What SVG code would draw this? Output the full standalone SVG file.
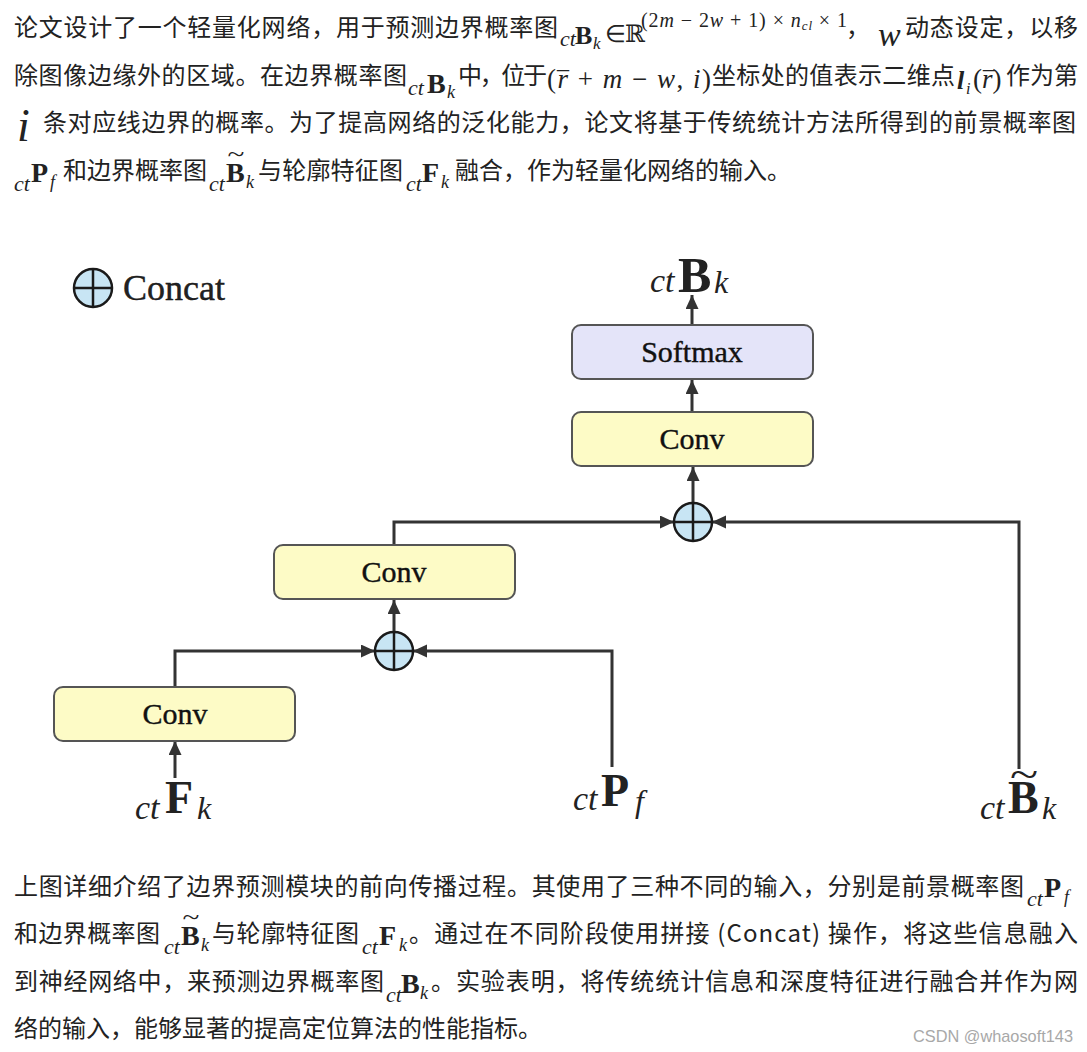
<svg xmlns="http://www.w3.org/2000/svg" width="1087" height="1052" viewBox="0 0 1087 1052">
<defs>
<style>
.cjk{font-family:"Noto Sans CJK SC","Noto Sans",sans-serif;font-size:24px;fill:#222}
.mi{font-family:"Liberation Serif",serif;font-style:italic;fill:#222}
.mb{font-family:"Liberation Serif",serif;font-weight:bold;fill:#222}
.mr{font-family:"Liberation Serif",serif;fill:#222}
.by{fill:#fdfbc6;stroke:#555;stroke-width:2}
.bp{fill:#e4e4f9;stroke:#555;stroke-width:2}
.cat{fill:#c8e5f4;stroke:#1a1a1a;stroke-width:2.5}
.cx{stroke:#1a1a1a;stroke-width:2.5}
.lbl{font-family:"Liberation Serif",serif;font-size:30px;text-anchor:middle;fill:#111;stroke:#111;stroke-width:0.4}
.conn{fill:none;stroke:#333;stroke-width:3}
.wm{font-family:"Liberation Sans",sans-serif;font-size:17px;fill:#a8a8a8}
.tl{font-family:"Liberation Serif",serif;fill:#222;text-anchor:middle}
</style>
<marker id="ah" markerUnits="userSpaceOnUse" markerWidth="16" markerHeight="14" refX="14" refY="6.5" orient="auto">
<path d="M0,0 L14,6.5 L0,13 z" fill="#333"/>
</marker>
</defs>
<rect width="1087" height="1052" fill="#fff"/>

<g id="para-top">
<text class="cjk" x="14" y="36" textLength="544" lengthAdjust="spacing">论文设计了一个轻量化网络，用于预测边界概率图</text>
<text class="mi" x="560" y="46" font-size="22">ct</text>
<text class="mb" x="575" y="44" font-size="26">B</text>
<text class="mi" x="593" y="49" font-size="17">k</text>
<text class="mr" x="605" y="42" font-size="24">∈</text>
<text x="625" y="42" font-size="24" font-family="DejaVu Serif,serif" fill="#222">ℝ</text>
<text class="mr" x="641" y="27" font-size="20" textLength="206" lengthAdjust="spacing">(2<tspan class="mi">m</tspan> − 2<tspan class="mi">w</tspan> + 1) × <tspan class="mi">n</tspan><tspan class="mi" font-size="13" dy="3">cl</tspan><tspan dy="-3"> × 1</tspan></text>
<text class="cjk" x="846" y="36">，</text>
<text class="mi" x="878" y="46" font-size="34">w</text>
<text class="cjk" x="905" y="36" textLength="173" lengthAdjust="spacing">动态设定，以移</text>

<text class="cjk" x="14" y="84" textLength="393" lengthAdjust="spacing">除图像边缘外的区域。在边界概率图</text>
<text class="mi" x="408" y="95" font-size="22">ct</text>
<text class="mb" x="427" y="93" font-size="28">B</text>
<text class="mi" x="447" y="98" font-size="18">k</text>
<text class="cjk" x="458" y="84" textLength="89" lengthAdjust="spacing">中，位于</text>
<text class="mr" x="547" y="88" font-size="27" textLength="164" lengthAdjust="spacing">(<tspan class="mi">r</tspan> + <tspan class="mi">m</tspan> − <tspan class="mi">w</tspan>, <tspan class="mi">i</tspan>)</text>
<text class="tl" x="563" y="88" font-size="24">¯</text>
<text class="cjk" x="712" y="84" textLength="243" lengthAdjust="spacing">坐标处的值表示二维点</text>
<text class="mi" x="957" y="89" font-size="26" font-weight="bold">l</text>
<text class="mi" x="966" y="94" font-size="16">i</text>
<text class="mr" x="973" y="88" font-size="27">(<tspan class="mi">r</tspan>)</text>
<text class="tl" x="989" y="88" font-size="24">¯</text>
<text class="cjk" x="1006" y="84" textLength="72" lengthAdjust="spacing">作为第</text>

<text class="mi" x="17" y="141" font-size="46">i</text>
<text class="cjk" x="43" y="131" textLength="1033" lengthAdjust="spacing">条对应线边界的概率。为了提高网络的泛化能力，论文将基于传统统计方法所得到的前景概率图</text>

<text class="mi" x="14" y="191" font-size="22">ct</text>
<text class="mb" x="31" y="182" font-size="28">P</text>
<text class="mi" x="50" y="188" font-size="18">f</text>
<text class="cjk" x="63" y="179" textLength="144" lengthAdjust="spacing">和边界概率图</text>
<text class="mi" x="209" y="191" font-size="22">ct</text>
<text class="mb" x="226" y="182" font-size="28">B</text>
<text class="tl" x="236" y="162" font-size="24" transform="translate(236 162) scale(1.3 1) translate(-236 -162)">~</text>
<text class="mi" x="246" y="188" font-size="18">k</text>
<text class="cjk" x="258" y="179" textLength="145" lengthAdjust="spacing">与轮廓特征图</text>
<text class="mi" x="406" y="191" font-size="22">ct</text>
<text class="mb" x="422" y="182" font-size="28">F</text>
<text class="mi" x="441" y="188" font-size="18">k</text>
<text class="cjk" x="455" y="179">融合，作为轻量化网络的输入。</text>
</g>

<g id="legend">
<circle class="cat" cx="93" cy="288" r="19"/>
<line class="cx" x1="74" y1="288" x2="112" y2="288"/>
<line class="cx" x1="93" y1="269" x2="93" y2="307"/>
<text class="mr" x="123" y="300" font-size="36" fill="#111" stroke="#111" stroke-width="0.4">Concat</text>
</g>

<g id="connectors">
<path class="conn" d="M175,778 V741" marker-end="url(#ah)"/>
<path class="conn" d="M175,687 V651 H375" marker-end="url(#ah)"/>
<path class="conn" d="M612,767 V651 H413" marker-end="url(#ah)"/>
<path class="conn" d="M394,632 V600" marker-end="url(#ah)"/>
<path class="conn" d="M394,545 V522 H674" marker-end="url(#ah)" stroke="#111"/>
<path class="conn" d="M1019,769 V522 H712" marker-end="url(#ah)"/>
<path class="conn" d="M693,503 V467" marker-end="url(#ah)"/>
<path class="conn" d="M692,412 V380" marker-end="url(#ah)"/>
<path class="conn" d="M692,325 V295" marker-end="url(#ah)"/>
</g>

<g id="conv1">
<rect class="by" x="54" y="687" width="241" height="54" rx="9"/>
<text class="lbl" x="175" y="724">Conv</text>
</g>
<g id="conv2">
<rect class="by" x="274" y="545" width="241" height="54" rx="9"/>
<text class="lbl" x="394" y="582">Conv</text>
</g>
<g id="conv3">
<rect class="by" x="572" y="412" width="241" height="54" rx="9"/>
<text class="lbl" x="692" y="449">Conv</text>
</g>
<g id="softmax">
<rect class="bp" x="572" y="325" width="241" height="54" rx="9"/>
<text class="lbl" x="692" y="362">Softmax</text>
</g>
<g id="concat1">
<circle class="cat" cx="394" cy="651" r="19"/>
<line class="cx" x1="375" y1="651" x2="413" y2="651"/>
<line class="cx" x1="394" y1="632" x2="394" y2="670"/>
</g>
<g id="concat2">
<circle class="cat" cx="693" cy="522" r="19"/>
<line class="cx" x1="674" y1="522" x2="712" y2="522"/>
<line class="cx" x1="693" y1="503" x2="693" y2="541"/>
</g>

<g id="out-Bk">
<text class="mi" x="650" y="292" font-size="34">ct</text>
<text class="mb" x="678" y="292" font-size="50">B</text>
<text class="mi" x="714" y="293" font-size="32">k</text>
</g>
<g id="in-Fk">
<text class="mi" x="135" y="819" font-size="34">ct</text>
<text class="mb" x="165" y="813" font-size="46">F</text>
<text class="mi" x="197" y="819" font-size="32">k</text>
</g>
<g id="in-Pf">
<text class="mi" x="573" y="810" font-size="34">ct</text>
<text class="mb" x="601" y="806" font-size="46">P</text>
<text class="mi" x="635" y="812" font-size="32">f</text>
</g>
<g id="in-Bk-tilde">
<text class="mi" x="980" y="819" font-size="34">ct</text>
<text class="mb" x="1008" y="813" font-size="46">B</text>
<text class="tl" x="1024" y="788" font-size="40" transform="translate(1024 788) scale(1.3 1) translate(-1024 -788)">~</text>
<text class="mi" x="1042" y="819" font-size="32">k</text>
</g>

<g id="para-bottom">
<text class="cjk" x="14" y="895" textLength="1010" lengthAdjust="spacing">上图详细介绍了边界预测模块的前向传播过程。其使用了三种不同的输入，分别是前景概率图</text>
<text class="mi" x="1027" y="906" font-size="22">ct</text>
<text class="mb" x="1044" y="897" font-size="28">P</text>
<text class="mi" x="1064" y="903" font-size="18">f</text>

<text class="cjk" x="14" y="942" textLength="146" lengthAdjust="spacing">和边界概率图</text>
<text class="mi" x="164" y="954" font-size="22">ct</text>
<text class="mb" x="181" y="945" font-size="28">B</text>
<text class="tl" x="191" y="925" font-size="24" transform="translate(191 925) scale(1.3 1) translate(-191 -925)">~</text>
<text class="mi" x="201" y="951" font-size="18">k</text>
<text class="cjk" x="212" y="942" textLength="147" lengthAdjust="spacing">与轮廓特征图</text>
<text class="mi" x="362" y="954" font-size="22">ct</text>
<text class="mb" x="379" y="945" font-size="28">F</text>
<text class="mi" x="399" y="951" font-size="18">k</text>
<text class="cjk" x="409" y="942" textLength="669" lengthAdjust="spacing">。通过在不同阶段使用拼接 (Concat) 操作，将这些信息融入</text>

<text class="cjk" x="14" y="990" textLength="370" lengthAdjust="spacing">到神经网络中，来预测边界概率图</text>
<text class="mi" x="386" y="1002" font-size="22">ct</text>
<text class="mb" x="401" y="993" font-size="28">B</text>
<text class="mi" x="420" y="999" font-size="18">k</text>
<text class="cjk" x="431" y="990" textLength="647" lengthAdjust="spacing">。实验表明，将传统统计信息和深度特征进行融合并作为网</text>

<text class="cjk" x="14" y="1037">络的输入，能够显著的提高定位算法的性能指标。</text>
<text class="wm" x="913" y="1042" textLength="160" lengthAdjust="spacingAndGlyphs">CSDN @whaosoft143</text>
</g>
</svg>
